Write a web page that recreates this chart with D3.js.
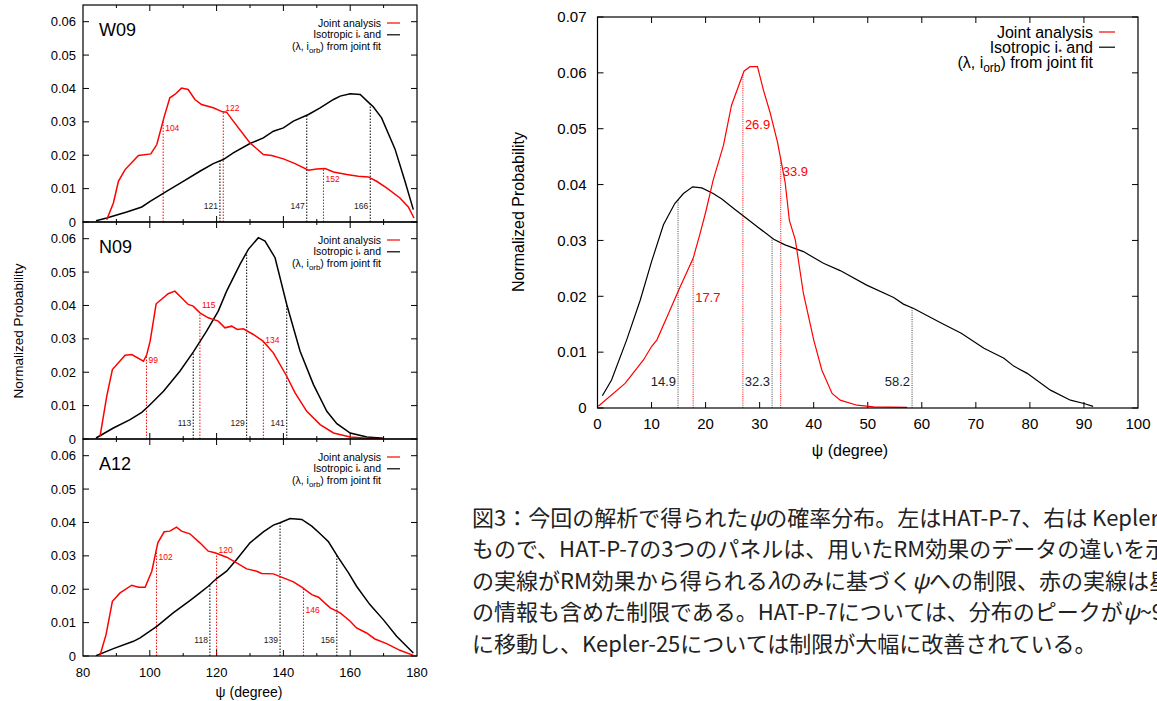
<!DOCTYPE html>
<html>
<head>
<meta charset="utf-8">
<script src="https://cdn.jsdelivr.net/npm/d3@7"></script>
<style>
  body { margin: 0; background: #fff; }
  svg text { font-family: "Liberation Sans", Arial, Helvetica, sans-serif; fill: #000; }
  svg text.cap { font-family: "Noto Sans CJK JP", sans-serif; font-size: 22px; fill: #222; }
</style>
</head>
<body>
<svg id="fig" width="1157" height="701"></svg>
<script>
// ---- data (degree, normalized probability) ----
var w09Joint = [[87.1,0.0007],[89.1,0.0057],[90.6,0.0122],[92.6,0.0157],[96.6,0.0199],[100.3,0.0204],[102.1,0.0232],[104.3,0.0315],[106.0,0.0372],[107.5,0.0382],[109.5,0.0401],[111.5,0.0397],[113.5,0.0367],[115.5,0.0352],[119.0,0.0342],[121.8,0.0330],[123.0,0.0329],[125.0,0.0302],[130.0,0.0237],[134.0,0.0202],[136.5,0.0199],[140.0,0.0189],[143.5,0.0175],[147.5,0.0155],[150.0,0.0159],[152.5,0.0160],[155.0,0.0150],[159.0,0.0142],[162.4,0.0137],[165.4,0.0135],[167.9,0.0122],[170.9,0.0102],[174.9,0.0072],[177.4,0.0045],[179.1,0.0012]];
var w09Iso = [[83.9,0.0004],[87.1,0.0012],[93.1,0.0030],[97.6,0.0045],[100.1,0.0062],[105.0,0.0092],[110.0,0.0122],[115.0,0.0152],[119.0,0.0175],[122.0,0.0187],[125.0,0.0207],[130.0,0.0235],[134.0,0.0252],[137.0,0.0272],[140.0,0.0282],[143.0,0.0302],[147.5,0.0322],[151.0,0.0342],[155.0,0.0367],[157.0,0.0377],[160.0,0.0384],[163.0,0.0382],[165.4,0.0359],[166.9,0.0345],[169.4,0.0312],[173.4,0.0219],[176.4,0.0122],[178.9,0.0037]];

var n09Joint = [[85.1,0.0008],[87.1,0.0128],[88.8,0.0208],[92.6,0.0251],[94.6,0.0253],[98.1,0.0233],[99.1,0.0253],[100.1,0.0293],[101.9,0.0405],[105.5,0.0435],[107.5,0.0443],[109.5,0.0423],[111.5,0.0403],[113.0,0.0398],[115.0,0.0378],[117.5,0.0363],[120.5,0.0353],[122.5,0.0333],[124.5,0.0338],[126.2,0.0328],[128.0,0.0330],[131.0,0.0313],[133.9,0.0293],[137.0,0.0258],[141.0,0.0188],[143.5,0.0138],[147.0,0.0083],[151.0,0.0043],[155.0,0.0018],[160.0,0.0006],[165.0,0.0002],[170.0,0.0000]];
var n09Iso = [[83.9,0.0003],[89.1,0.0033],[94.1,0.0058],[97.6,0.0080],[99.6,0.0098],[104.1,0.0143],[109.0,0.0203],[113.0,0.0260],[117.0,0.0323],[120.5,0.0383],[123.0,0.0443],[127.0,0.0523],[129.5,0.0568],[132.5,0.0603],[134.5,0.0593],[137.5,0.0543],[141.0,0.0403],[145.0,0.0263],[149.0,0.0163],[153.0,0.0083],[156.0,0.0046],[160.0,0.0018],[165.0,0.0006],[170.0,0.0002]];

var a12Joint = [[85.1,0.0002],[86.9,0.0064],[88.8,0.0164],[91.1,0.0189],[94.6,0.0212],[96.6,0.0206],[98.6,0.0206],[100.6,0.0254],[102.4,0.0339],[104.3,0.0372],[106.0,0.0374],[108.0,0.0386],[109.5,0.0374],[112.0,0.0366],[115.0,0.0339],[117.5,0.0314],[119.5,0.0309],[123.0,0.0296],[126.0,0.0279],[129.0,0.0261],[132.0,0.0254],[133.5,0.0247],[137.0,0.0246],[140.0,0.0234],[143.0,0.0222],[145.5,0.0206],[148.5,0.0184],[150.5,0.0176],[154.0,0.0144],[157.0,0.0129],[160.0,0.0104],[161.9,0.0084],[164.9,0.0069],[167.4,0.0051],[170.9,0.0037],[174.9,0.0017],[178.9,0.0002]];
var a12Iso = [[83.9,0.0001],[89.1,0.0022],[95.1,0.0044],[97.1,0.0054],[102.1,0.0089],[107.0,0.0129],[112.0,0.0166],[115.0,0.0189],[117.5,0.0209],[120.0,0.0232],[123.0,0.0254],[126.0,0.0289],[130.0,0.0339],[134.0,0.0372],[137.0,0.0392],[139.0,0.0399],[142.0,0.0412],[145.5,0.0409],[148.5,0.0389],[151.0,0.0366],[153.5,0.0342],[156.5,0.0294],[159.5,0.0249],[161.9,0.0209],[165.9,0.0154],[169.9,0.0109],[173.9,0.0059],[178.9,0.0009]];

var k25Joint = [[0.15,0.0003],[5.1,0.0044],[8.5,0.0086],[10.0,0.0110],[11.0,0.0122],[13.4,0.0175],[15.3,0.0217],[17.7,0.0268],[19.0,0.0313],[20.0,0.0350],[21.4,0.0408],[23.3,0.0470],[24.8,0.0542],[27.1,0.0603],[28.2,0.0611],[29.6,0.0611],[30.7,0.0569],[31.9,0.0530],[33.3,0.0476],[34.7,0.0405],[35.5,0.0336],[36.6,0.0301],[38.1,0.0205],[40.0,0.0122],[41.5,0.0068],[43.4,0.0026],[44.9,0.0014],[48.0,0.0005],[51.1,0.0002],[57.3,0.0001]];
var k25Iso = [[0.9,0.0022],[2.6,0.0050],[5.4,0.0122],[7.9,0.0193],[10.0,0.0262],[12.2,0.0328],[14.3,0.0366],[15.9,0.0384],[17.6,0.0396],[19.3,0.0394],[21.4,0.0384],[23.0,0.0374],[25.2,0.0357],[27.9,0.0337],[29.5,0.0325],[32.6,0.0302],[34.7,0.0292],[38.1,0.0280],[41.8,0.0259],[44.9,0.0246],[49.8,0.0220],[54.8,0.0198],[56.6,0.0186],[58.5,0.0178],[63.4,0.0153],[67.3,0.0134],[71.5,0.0107],[75.2,0.0089],[77.0,0.0075],[79.5,0.0062],[83.8,0.0032],[87.5,0.0014],[90.0,0.0008],[91.7,0.0003]];

// credible-interval markers: degree, which curve, label height for red labels
var w09Marks = [[104,"joint",0.028],[121,"iso"],[122,"joint",0.034],[147,"iso"],[152,"joint",0.013],[166,"iso"]];
var n09Marks = [[99,"joint",0.0236],[113,"iso"],[115,"joint",0.040],[129,"iso"],[134,"joint",0.0296],[141,"iso"]];
var a12Marks = [[102,"joint",0.0297],[118,"iso"],[120,"joint",0.0317],[139,"iso"],[146,"joint",0.0139],[156,"iso"]];
var k25Marks = [[14.9,"iso"],[17.7,"joint",0.0198],[26.9,"joint",0.0508],[32.3,"iso"],[33.9,"joint",0.0424],[58.2,"iso"]];

var panelNames = ["W09", "N09", "A12"];
var leftXTicks = [80, 100, 120, 140, 160, 180];
var leftYTicks = [0, 0.01, 0.02, 0.03, 0.04, 0.05, 0.06];
var rightXTicks = [0, 10, 20, 30, 40, 50, 60, 70, 80, 90, 100];
var rightYTicks = [0, 0.01, 0.02, 0.03, 0.04, 0.05, 0.06, 0.07];
var legendJoint = "Joint analysis";

var captionLines = [
  [["図3：今回の解析で得られた"], ["ψ", 1], ["の確率分布。左はHAT-P-7、右は Kepler-"]],
  [["もので、HAT-P-7の3つのパネルは、用いたRM効果のデータの違いを示"]],
  [["の実線がRM効果から得られる"], ["λ", 1], ["のみに基づく"], ["ψ", 1], ["への制限、赤の実線は星"]],
  [["の情報も含めた制限である。HAT-P-7については、分布のピークが"], ["ψ", 1], ["~90"]],
  [["に移動し、Kepler-25については制限が大幅に改善されている。"]]
];

var RED = "#ff0000";
var svg = d3.select("#fig");

function interp(series, x) {
  var xs = series.map(function(d){ return d[0]; });
  var i = d3.bisectLeft(xs, x);
  if (i <= 0) return series[0][1];
  if (i >= series.length) return series[series.length-1][1];
  var a = series[i-1], b = series[i];
  return a[1] + (b[1]-a[1]) * (x-a[0]) / (b[0]-a[0]);
}

function legend(g, xr, y0, dy, fs, lineLen) {
  g.append("text").attr("x", xr).attr("y", y0).attr("dy", "0.35em")
    .attr("text-anchor", "end").style("font-size", fs + "px").text(legendJoint);
  var t2 = g.append("text").attr("x", xr).attr("y", y0 + dy).attr("dy", "0.35em")
    .attr("text-anchor", "end").style("font-size", fs + "px");
  t2.append("tspan").text("Isotropic i");
  t2.append("tspan").attr("dy", fs*0.12).style("font-size", (fs*0.6) + "px").text("*");
  t2.append("tspan").attr("dy", -fs*0.12).text(" and");
  var t3 = g.append("text").attr("x", xr).attr("y", y0 + 2*dy).attr("dy", "0.35em")
    .attr("text-anchor", "end").style("font-size", fs + "px");
  t3.append("tspan").text("(λ, i");
  t3.append("tspan").attr("dy", fs*0.22).style("font-size", (fs*0.75) + "px").text("orb");
  t3.append("tspan").attr("dy", -fs*0.22).text(") from joint fit");
  g.append("line").attr("x1", xr + 6).attr("x2", xr + 6 + lineLen)
    .attr("y1", y0).attr("y2", y0).attr("stroke", RED).attr("stroke-width", 1.2);
  g.append("line").attr("x1", xr + 6).attr("x2", xr + 6 + lineLen)
    .attr("y1", y0 + dy).attr("y2", y0 + dy).attr("stroke", "#000").attr("stroke-width", 1.2);
}

function drawPanel(o) {
  var g = svg.append("g");
  var x = o.x, y = o.y;
  var x0 = x.range()[0], x1 = x.range()[1], yb = y.range()[0], yt = y.range()[1];
  var clipId = "clip" + o.id;
  svg.append("clipPath").attr("id", clipId).append("rect")
    .attr("x", x0).attr("y", yt).attr("width", x1 - x0).attr("height", yb - yt);

  // ticks, inward, on all four sides
  var tl = o.tick;
  o.xMajor.forEach(function(v){
    g.append("line").attr("x1", x(v)).attr("x2", x(v)).attr("y1", yb).attr("y2", yb - tl).attr("stroke", "#000");
    g.append("line").attr("x1", x(v)).attr("x2", x(v)).attr("y1", yt).attr("y2", yt + tl).attr("stroke", "#000");
  });
  (o.xMinor || []).forEach(function(v){
    g.append("line").attr("x1", x(v)).attr("x2", x(v)).attr("y1", yb).attr("y2", yb - tl/2).attr("stroke", "#000");
    g.append("line").attr("x1", x(v)).attr("x2", x(v)).attr("y1", yt).attr("y2", yt + tl/2).attr("stroke", "#000");
  });
  o.yTicks.forEach(function(v){
    g.append("line").attr("x1", x0).attr("x2", x0 + tl).attr("y1", y(v)).attr("y2", y(v)).attr("stroke", "#000");
    g.append("line").attr("x1", x1).attr("x2", x1 - tl).attr("y1", y(v)).attr("y2", y(v)).attr("stroke", "#000");
    g.append("text").attr("x", x0 - o.yPad).attr("y", y(v)).attr("dy", "0.35em")
      .attr("text-anchor", "end").style("font-size", o.fs + "px").text(v === 0 ? "0" : d3.format(".2f")(v));
  });
  if (o.xLabels) {
    o.xLabels.forEach(function(v){
      g.append("text").attr("x", x(v)).attr("y", yb + o.xPad).attr("dy", "0.35em")
        .attr("text-anchor", "middle").style("font-size", o.fs + "px").text(v);
    });
  }

  // interval markers
  var curves = { joint: o.joint, iso: o.iso };
  o.marks.forEach(function(m){
    var isJ = m[1] === "joint";
    var top = interp(curves[m[1]], m[0]);
    g.append("line").attr("x1", x(m[0])).attr("x2", x(m[0]))
      .attr("y1", yb).attr("y2", y(top))
      .attr("stroke", isJ ? RED : o.dotBlack).attr("stroke-width", 1)
      .attr("stroke-dasharray", o.dash);
    var lab = String(m[0]);
    if (isJ) {
      g.append("text").attr("x", x(m[0]) + 2).attr("y", y(m[2])).attr("dy", "0.35em")
        .style("font-size", o.mfs + "px").style("fill", RED).text(lab);
    } else {
      g.append("text").attr("x", x(m[0]) - 2).attr("y", y(0.0048)).attr("dy", "0.35em")
        .attr("text-anchor", "end").style("font-size", o.mfs + "px").style("fill", "#222").text(lab);
    }
  });

  var line = d3.line().x(function(d){ return x(d[0]); }).y(function(d){ return y(d[1]); });
  g.append("path").datum(o.iso).attr("d", line).attr("fill", "none")
    .attr("stroke", "#000").attr("stroke-width", o.lw).attr("clip-path", "url(#" + clipId + ")");
  g.append("path").datum(o.joint).attr("d", line).attr("fill", "none")
    .attr("stroke", RED).attr("stroke-width", o.lw).attr("clip-path", "url(#" + clipId + ")");

  g.append("rect").attr("x", x0).attr("y", yt).attr("width", x1 - x0).attr("height", yb - yt)
    .attr("fill", "none").attr("stroke", "#000").attr("stroke-width", 1.2);
  return g;
}

// ---- left: HAT-P-7 three panels ----
var lx = d3.scaleLinear().domain([80, 180]).range([83, 417]);
var panelTops = [5, 222, 439];
var leftData = [[w09Joint, w09Iso, w09Marks], [n09Joint, n09Iso, n09Marks], [a12Joint, a12Iso, a12Marks]];
panelTops.forEach(function(t, i){
  var ly = d3.scaleLinear().domain([0, 0.065]).range([t + 217, t]);
  var g = drawPanel({
    id: i, x: lx, y: ly, joint: leftData[i][0], iso: leftData[i][1], marks: leftData[i][2],
    xMajor: [100, 120, 140, 160], xMinor: [90, 110, 130, 150, 170],
    yTicks: leftYTicks, xLabels: i === 2 ? leftXTicks : null,
    tick: 6, fs: 13, yPad: 7, xPad: 16, mfs: 8.5, lw: 1.5, dash: "1.5,1.5", dotBlack: "#000"
  });
  g.append("text").attr("x", 99).attr("y", t + 25).attr("dy", "0.35em")
    .style("font-size", "18px").text(panelNames[i]);
  legend(g, 381, t + 18, 11.8, 10.5, 13);
});
svg.append("text").attr("transform", "translate(18,331) rotate(-90)").attr("dy", "0.35em")
  .attr("text-anchor", "middle").style("font-size", "13.5px").text("Normalized Probability");
svg.append("text").attr("x", 249).attr("y", 692).attr("dy", "0.35em")
  .attr("text-anchor", "middle").style("font-size", "14px").text("ψ (degree)");

// ---- right: Kepler-25 ----
var rx = d3.scaleLinear().domain([0, 100]).range([597.5, 1138]);
var ry = d3.scaleLinear().domain([0, 0.07]).range([408, 17]);
var rg = drawPanel({
  id: "r", x: rx, y: ry, joint: k25Joint, iso: k25Iso, marks: k25Marks,
  xMajor: rightXTicks.slice(1, -1), xMinor: [], yTicks: rightYTicks, xLabels: rightXTicks,
  tick: 6, fs: 15, yPad: 11, xPad: 16, mfs: 13, lw: 1.2, dash: "1,1.2", dotBlack: "#444"
});
legend(rg, 1093, 32, 15.2, 16, 16);
svg.append("text").attr("transform", "translate(518,212) rotate(-90)").attr("dy", "0.35em")
  .attr("text-anchor", "middle").style("font-size", "16px").text("Normalized Probability");
svg.append("text").attr("x", 850).attr("y", 450).attr("dy", "0.35em")
  .attr("text-anchor", "middle").style("font-size", "16px").text("ψ (degree)");

// ---- caption (cut at the right edge, as in the source page) ----
captionLines.forEach(function(parts, i){
  var t = svg.append("text").attr("class", "cap").attr("x", 472).attr("y", 518 + i * 31.4).attr("dy", "0.36em");
  parts.forEach(function(p){
    var s = t.append("tspan").text(p[0]);
    if (p[1]) s.style("font-style", "italic");
  });
});
</script>
</body>
</html>
